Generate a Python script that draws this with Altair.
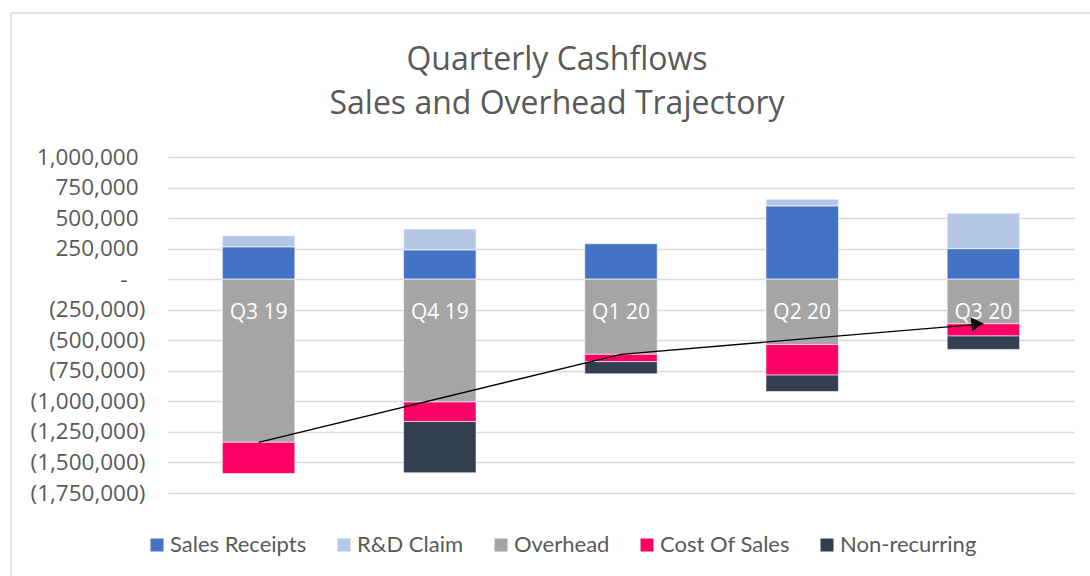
import altair as alt
import pandas as pd

quarters = ["Q3 19", "Q4 19", "Q1 20", "Q2 20", "Q3 20"]
series = ["Sales Receipts", "R&D Claim", "Overhead", "Cost Of Sales", "Non-recurring"]
colors = ["#4472C4", "#B4C7E7", "#A5A5A5", "#FF0066", "#333F50"]

sales_receipts = [265000, 240000, 290000, 600000, 250000]
rd_claim = [90000, 170000, 0, 55000, 290000]
overhead = [-1335000, -1005000, -615000, -535000, -365000]
cost_of_sales = [-255000, -160000, -60000, -250000, -100000]
non_recurring = [0, -420000, -100000, -135000, -110000]

trend_quarters = ["Q3 19", "Q1 20", "Q3 20"]
trend_values = [-1335000, -615000, -365000]

y_ticks = [1000000, 750000, 500000, 250000, 0, -250000, -500000, -750000,
           -1000000, -1250000, -1500000, -1750000]

rows = []
for si, (name, vals) in enumerate(zip(series, [sales_receipts, rd_claim, overhead,
                                               cost_of_sales, non_recurring])):
    for q, v in zip(quarters, vals):
        if v != 0:
            rows.append({"quarter": q, "series": name, "value": v, "order": si})
bars_df = pd.DataFrame(rows)
labels_df = pd.DataFrame({"quarter": quarters})
trend_df = pd.DataFrame({"quarter": trend_quarters, "value": trend_values})
arrow_df = trend_df.tail(1)

FONT = "Open Sans"
TXT = "#595959"

x_enc = alt.X("quarter:N", sort=quarters, axis=None,
              scale=alt.Scale(paddingInner=0.6, paddingOuter=0.3))
y_scale = alt.Scale(domain=[-1750000, 1000000], nice=False, zero=False)

label_expr = ("datum.value > 0 ? format(datum.value, ',') : "
              "(datum.value < 0 ? '(' + format(-datum.value, ',') + ')' : '-')")

y_axis = alt.Axis(values=y_ticks, labelExpr=label_expr, grid=True,
                  gridColor="#D9D9D9", gridWidth=1.5, domain=False,
                  ticks=False, labelFont=FONT,
                  labelPadding={"condition": [{"test": "datum.value > 0", "value": 30},
                                              {"test": "datum.value == 0", "value": 41}],
                                "value": 23},
                  labelFontSize=22.5, labelColor=TXT, labelOverlap=False,
                  labelBound=False, labelFlush=False, tickCount=12)

bars = alt.Chart(bars_df).mark_bar(stroke="#ffffff", strokeWidth=0.6).encode(
    x=x_enc,
    y=alt.Y("value:Q", stack="zero", scale=y_scale, title=None, axis=y_axis),
    color=alt.Color("series:N", sort=series,
                    scale=alt.Scale(domain=series, range=colors),
                    legend=alt.Legend(title=None, orient="none", direction="horizontal",
                                      legendX=-22, legendY=377, symbolType="square",
                                      symbolSize=169, symbolStrokeWidth=0,
                                      labelFont="Lato", labelFontSize=22,
                                      labelColor=TXT, labelOffset=2,
                                      columnPadding=26)),
    order=alt.Order("order:Q"),
)

labels = alt.Chart(labels_df).mark_text(color="white", font=FONT, fontSize=21,
                                        dy=34, baseline="middle").encode(
    x=x_enc, y=alt.datum(0), text="quarter:N")

trend = alt.Chart(trend_df).mark_line(color="black", strokeWidth=1.3).encode(
    x=x_enc, y=alt.Y("value:Q", scale=y_scale, title=None, axis=y_axis))

arrow = alt.Chart(arrow_df).mark_point(shape="triangle-right", filled=True,
                                       color="black", opacity=1, size=190,
                                       angle=355, xOffset=-6).encode(
    x=x_enc, y=alt.Y("value:Q", scale=y_scale, title=None, axis=y_axis))

border_top = alt.Chart(labels_df.head(1)).mark_rule(color="#D9D9D9", strokeWidth=1.5).encode(
    x=alt.value(-157), x2=alt.value(940), y=alt.value(-144))
border_left = alt.Chart(labels_df.head(1)).mark_rule(color="#D9D9D9", strokeWidth=1.5).encode(
    x=alt.value(-157), y=alt.value(-144), y2=alt.value(440))

chart = alt.layer(bars, labels, trend, arrow, border_top, border_left).properties(
    width=906, height=336,
    autosize=alt.AutoSizeParams(type="none"),
    padding={"left": 168, "top": 157, "right": 16, "bottom": 83},
    background="white",
    title=alt.TitleParams(text=["Quarterly Cashflows", "Sales and Overhead Trajectory"],
                          font=FONT, fontSize=32, fontWeight="normal", color=TXT,
                          anchor="middle", dx=-64, lineHeight=44, offset=0,
                          baseline="alphabetic", dy=134),
).configure_view(stroke=None)

chart.save("out.html", embed_options={"renderer": "svg", "actions": False})
